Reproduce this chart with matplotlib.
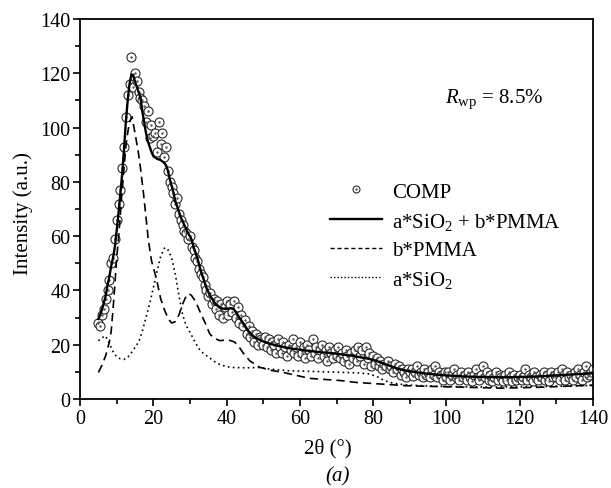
import numpy as np
import matplotlib
matplotlib.use("Agg")
import matplotlib.pyplot as plt
from matplotlib.lines import Line2D
from matplotlib.legend_handler import HandlerTuple
from matplotlib.ticker import MultipleLocator

plt.rcParams['font.family'] = ['Liberation Serif', 'DejaVu Serif']
plt.rcParams['mathtext.fontset'] = 'custom'
plt.rcParams['mathtext.rm'] = 'Liberation Serif'
plt.rcParams['mathtext.it'] = 'Liberation Serif:italic'

# measured pattern (COMP), 5..140 deg step 0.5
comp_x = np.arange(5, 140.5, 0.5)
comp_y = [
    28, 27, 31, 33, 37, 40, 44, 50, 52, 59,
    66, 72, 77, 85, 93, 104, 112, 116, 126, 115,
    120, 117, 113, 111, 110, 108, 102, 106, 96, 101,
    97, 98, 91, 102, 94, 98, 89, 93, 84, 80,
    78, 76, 72, 74, 68, 66, 64, 62, 61, 59,
    60, 56, 55, 52, 51, 48, 46, 45, 42, 40,
    38, 39, 35, 37, 33, 36, 31, 35, 30, 34,
    36, 31, 35, 32, 36, 30, 34, 28, 31, 27,
    29, 24, 27, 23, 25, 21, 24, 20, 23, 22,
    20, 23, 19, 22, 18, 21, 20, 17, 22, 19,
    17, 21, 19, 16, 20, 18, 22, 17, 19, 16,
    21, 17, 19, 15, 20, 18, 16, 22, 17, 19,
    15, 18, 20, 16, 18, 14, 19, 17, 15, 18,
    16, 19, 15, 17, 14, 18, 16, 13, 17, 15,
    18, 14, 19, 16, 18, 13, 19, 15, 17, 12,
    16, 13, 15, 12, 14, 11, 13, 12, 14, 11,
    12, 10, 13, 11, 12, 9, 11, 10, 8, 11,
    10, 11, 8.5, 10, 12, 9, 10, 8, 11, 9,
    10, 8, 11, 9, 12, 8, 10, 9, 7, 10,
    8, 10, 7, 9, 11, 8, 9, 7, 10, 8,
    9, 7, 10, 8, 6.5, 9, 11, 8, 7, 9,
    12, 8, 10, 7, 9, 6.5, 8, 10, 7, 9,
    8, 6.5, 9, 7, 10, 8, 6.5, 9, 7, 8,
    9, 7, 8, 11, 7, 9, 8, 6.5, 10, 8,
    7, 9, 8, 10, 7, 9, 6.5, 10, 8, 9,
    8, 10, 7, 11, 9, 7, 10, 8, 9, 7,
    10, 8, 11, 9, 7, 10, 12, 8, 9, 10,
    11,
]

# fit a*SiO2 + b*PMMA
fit_x = [5, 5.5, 6, 6.5, 7, 7.5, 8, 8.5, 9, 9.5, 10, 10.5, 11, 11.5, 12, 12.5,
         13, 13.5, 14, 14.5, 15, 15.5, 16, 16.5, 17, 17.5, 18, 18.5, 19, 19.5,
         20, 20.5, 21, 21.5, 22, 22.5, 23, 23.5, 24, 24.5, 25, 25.5, 26, 26.5,
         27, 27.5, 28, 28.5, 29, 29.5, 30, 30.5, 31, 31.5, 32, 32.5, 33, 33.5,
         34, 34.5, 35, 35.5, 36, 36.5, 37, 37.5, 38, 38.5, 39, 39.5, 40, 40.5,
         41, 41.5, 42, 42.5, 43, 43.5, 44, 44.5, 45, 46, 47, 48, 49, 50, 52, 54,
         56, 58, 60, 62, 64, 66, 68, 70, 72, 74, 76, 78, 80, 82, 84, 86, 88, 90,
         92, 95, 98, 100, 105, 110, 115, 120, 125, 130, 135, 140]
fit_y = [29.5, 31, 33, 35.5, 38, 42, 45, 49, 52, 56, 62, 68.5, 75.5, 83, 92, 102,
         110, 116, 119.5, 119.5, 117, 115, 113, 111, 106, 102, 98, 95, 93, 91,
         89.5, 89, 88.5, 88.3, 88, 87.5, 87, 86, 84, 81, 78.5, 76, 73, 71,
         69, 67, 65.5, 64, 62.5, 61, 60, 58.5, 56, 54, 52, 49.5, 47, 45,
         43, 41, 39.5, 38, 37, 36, 35, 34.5, 34, 33.5, 33.3, 33.2, 33.2, 33.3,
         33.5, 33.3, 33, 32, 31, 30, 29, 28, 27, 25, 23.5, 22.5, 21.8, 21.2, 20.3, 19.6,
         19, 18.5, 18.2, 17.8, 17.5, 17.2, 17, 16.7, 16.3, 16, 15.5, 15, 14.5, 13.5, 12.5, 11.5, 10.7, 10.2,
         9.8, 9.3, 8.9, 8.7, 8.3, 8.1, 8, 8.1, 8.3, 8.7, 9.1, 9.5]

# b*PMMA component
pmma_x = [5, 6, 7, 8, 8.5, 9, 9.5, 10, 10.5, 11, 11.5, 12, 12.5, 13, 13.5, 14.2,
          15, 15.9, 16.5, 17.3, 18, 18.6, 19.5, 20.9, 22, 23, 24.1, 25, 26, 27,
          28, 29, 29.8, 30.5, 31.5, 32.8, 34, 35.4, 36.5, 38.1, 40.4, 42.2, 43.5,
          44.5, 46.3, 49, 52, 55.4, 62.7, 71, 75.4, 80, 89, 100, 114.6, 125, 140]
pmma_y = [9.8, 12.5, 16, 21, 25, 33, 42, 52, 59, 68, 77, 85, 93, 98, 102, 104,
          98, 91, 85, 76, 67, 59, 51, 44, 37, 33, 29.5, 28, 28.5, 31,
          35, 38, 38.8, 38, 36, 32, 28.5, 24, 22.5, 21.5, 21.8, 21, 19,
          17, 14.1, 11.7, 10.6, 9.8, 7.6, 6.8, 6.1, 5.7, 4.9, 4.5, 4.0, 4.3, 5.1]

# a*SiO2 component
sio2_x = [5, 6, 6.8, 7.5, 8, 9, 10, 11, 12, 13, 14, 15, 16, 17, 18, 19, 20, 21,
          22, 23, 23.5, 24, 25, 26, 27, 28, 29, 30, 31, 32, 33, 34, 35, 36, 37,
          38, 40, 42, 45, 49, 52, 57, 60, 65, 70, 76, 79, 81, 83, 85, 87, 90, 95,
          100, 110, 120, 130, 140]
sio2_y = [21.5, 22.5, 23.3, 22, 20.5, 17.5, 15.5, 14.8, 14.6, 15.3, 17, 19, 21,
          25, 30, 35, 41, 47, 52.5, 55.5, 55.8, 55, 52, 46, 38, 31, 27, 24.6, 22,
          19.5, 17.5, 16.5, 15.5, 14.5, 13.5, 12.8, 11.9, 11.6, 11.5, 11.6, 11,
          10.4, 10.3, 10.1, 9.9, 9.6, 9.2, 8.3, 6.8, 6, 5.5, 5.1, 4.8, 4.6, 4.4,
          4.5, 4.7, 5]

fig = plt.figure(figsize=(6.11, 4.89), dpi=100)
ax = fig.add_axes([0.131, 0.182, 0.8395, 0.777])

ax.plot(comp_x, comp_y, 'o', mfc='white', mec='#2a2a2a', mew=0.8, ms=6.5, zorder=2)
ax.plot(comp_x, comp_y, '.', color='#555555', ms=1.5, zorder=3)
ax.plot(fit_x, fit_y, '-', color='black', lw=1.7, zorder=4)
ax.plot(pmma_x, pmma_y, '--', color='black', lw=1.2, dashes=(5, 3), zorder=4)
ax.plot(sio2_x, sio2_y, ':', color='black', lw=1.2, dashes=(1, 2), zorder=4)

ax.set_xlim(0, 140)
ax.set_ylim(0, 140)
ax.xaxis.set_major_locator(MultipleLocator(20))
ax.xaxis.set_minor_locator(MultipleLocator(10))
ax.yaxis.set_major_locator(MultipleLocator(20))
ax.yaxis.set_minor_locator(MultipleLocator(10))
ax.tick_params(which='both', direction='out', top=False, right=False,
               width=1.2, labelsize=14.5, pad=2)
ax.tick_params(which='major', length=5)
ax.tick_params(which='minor', length=3.5)
for s in ax.spines.values():
    s.set_linewidth(1.3)

ax.set_xlabel('2\u03b8 (\u00b0)', fontsize=15)
ax.set_ylabel('Intensity (a.u.)', fontsize=15)
ax.xaxis.set_label_coords(0.483, -0.103)
ax.yaxis.set_label_coords(-0.092, 0.49)

ax.text(99.5, 111, r'$\it{R}_{\rm{wp}}$ = 8.5%', fontsize=15, va='center')

h_comp = (Line2D([], [], ls='none', marker='o', mfc='white', mec='#2a2a2a', mew=0.8, ms=5),
          Line2D([], [], ls='none', marker='.', color='#555555', ms=1.5))
h_fit = Line2D([], [], color='black', lw=1.7)
h_pmma = Line2D([], [], color='black', lw=1.0, ls='--', dashes=(3, 2))
h_sio2 = Line2D([], [], color='black', lw=1.0, ls=':', dashes=(1, 1.5))
ax.legend([h_comp, h_fit, h_pmma, h_sio2],
          ['COMP', r'a*SiO$_2$ + b*PMMA', 'b*PMMA', r'a*SiO$_2$'],
          handler_map={tuple: HandlerTuple(ndivide=1)},
          loc='upper left', bbox_to_anchor=(0.45, 0.62), frameon=False,
          fontsize=15, handlelength=2.5, handletextpad=0.5, labelspacing=0.42)

fig.text(0.552, 0.005, '(a)', fontsize=15, style='italic', ha='center', va='bottom')

fig.savefig('out.png', dpi=100)
